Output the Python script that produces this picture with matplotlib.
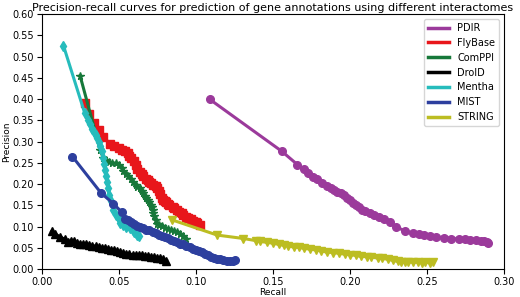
import matplotlib
matplotlib.use('Agg')
import matplotlib.pyplot as plt

# PDIR
pdir_r = [0.109, 0.156, 0.166, 0.170, 0.173, 0.176, 0.179, 0.182, 0.185, 0.188, 0.190, 0.192,
          0.194, 0.196, 0.198, 0.200, 0.202, 0.204, 0.206, 0.208, 0.210, 0.213, 0.216, 0.219,
          0.222, 0.226, 0.230, 0.236, 0.241, 0.245, 0.248, 0.252, 0.256, 0.261, 0.266, 0.271,
          0.275, 0.278, 0.282, 0.285, 0.287, 0.289, 0.290]
pdir_p = [0.400, 0.277, 0.246, 0.236, 0.226, 0.216, 0.211, 0.203, 0.196, 0.190, 0.186, 0.182,
          0.178, 0.174, 0.168, 0.162, 0.156, 0.150, 0.145, 0.140, 0.136, 0.131, 0.127, 0.123,
          0.118, 0.110, 0.100, 0.089, 0.084, 0.082, 0.081, 0.078, 0.076, 0.074, 0.072, 0.071,
          0.071, 0.069, 0.068, 0.066, 0.065, 0.064, 0.062]

# FlyBase
fly_r = [0.028, 0.031, 0.034, 0.037, 0.040, 0.0445, 0.047, 0.050, 0.052, 0.054, 0.056, 0.057,
         0.058, 0.060, 0.061, 0.062, 0.064, 0.065, 0.066, 0.068, 0.069, 0.070, 0.071, 0.072,
         0.074, 0.075, 0.076, 0.077, 0.078, 0.079, 0.080, 0.081, 0.082, 0.083, 0.085, 0.086,
         0.088, 0.089, 0.091, 0.092, 0.094, 0.095, 0.097, 0.098, 0.100, 0.101, 0.103]
fly_p = [0.390, 0.365, 0.345, 0.328, 0.312, 0.294, 0.290, 0.284, 0.281, 0.278, 0.273, 0.266,
         0.262, 0.255, 0.246, 0.236, 0.228, 0.223, 0.218, 0.212, 0.210, 0.205, 0.203, 0.198,
         0.195, 0.192, 0.185, 0.176, 0.168, 0.163, 0.160, 0.157, 0.154, 0.150, 0.146, 0.143,
         0.139, 0.135, 0.131, 0.128, 0.123, 0.121, 0.118, 0.114, 0.112, 0.108, 0.103]

# ComPPI
com_r = [0.025, 0.038, 0.040, 0.042, 0.044, 0.046, 0.048, 0.050, 0.052, 0.053, 0.055, 0.056,
         0.058, 0.059, 0.061, 0.062, 0.064, 0.065, 0.066, 0.067, 0.068, 0.069, 0.070, 0.071,
         0.0715, 0.072, 0.0726, 0.073, 0.074, 0.0748, 0.076, 0.078, 0.080, 0.082, 0.084,
         0.086, 0.088, 0.090, 0.092, 0.094]
com_p = [0.455, 0.280, 0.262, 0.256, 0.252, 0.250, 0.249, 0.245, 0.238, 0.232, 0.225, 0.219,
         0.212, 0.206, 0.198, 0.194, 0.190, 0.184, 0.178, 0.172, 0.168, 0.163, 0.158, 0.150,
         0.145, 0.138, 0.131, 0.124, 0.116, 0.107, 0.104, 0.101, 0.097, 0.094, 0.093,
         0.090, 0.087, 0.083, 0.078, 0.072]

# DroID
droid_r = [0.0066, 0.009, 0.012, 0.015, 0.0174, 0.019, 0.021, 0.023, 0.025, 0.027, 0.029,
           0.031, 0.033, 0.035, 0.037, 0.039, 0.041, 0.043, 0.045, 0.047, 0.049, 0.051, 0.053,
           0.055, 0.057, 0.059, 0.061, 0.063, 0.065, 0.067, 0.069, 0.071, 0.073, 0.075, 0.077,
           0.079, 0.081]
droid_p = [0.089, 0.082, 0.076, 0.070, 0.064, 0.066, 0.065, 0.062, 0.060, 0.059, 0.058,
           0.056, 0.055, 0.054, 0.052, 0.050, 0.049, 0.048, 0.045, 0.044, 0.042, 0.040, 0.038,
           0.036, 0.035, 0.034, 0.033, 0.032, 0.032, 0.031, 0.030, 0.029, 0.028, 0.027, 0.025,
           0.023, 0.020]

# Mentha
men_r = [0.0142, 0.028, 0.030, 0.0315, 0.033, 0.034, 0.035, 0.036, 0.037, 0.038, 0.039, 0.040,
         0.0405, 0.041, 0.042, 0.0425, 0.043, 0.044, 0.045, 0.0465, 0.048, 0.050, 0.051, 0.053,
         0.055, 0.0575, 0.059, 0.060, 0.061, 0.062, 0.063]
men_p = [0.526, 0.367, 0.352, 0.341, 0.330, 0.322, 0.315, 0.308, 0.300, 0.290, 0.278, 0.262,
         0.248, 0.233, 0.218, 0.205, 0.190, 0.175, 0.160, 0.140, 0.128, 0.117, 0.108, 0.103,
         0.100, 0.096, 0.092, 0.088, 0.084, 0.080, 0.077]

# MIST
mist_r = [0.020, 0.0386, 0.0466, 0.052, 0.054, 0.056, 0.058, 0.060, 0.062, 0.064, 0.066, 0.068,
          0.070, 0.072, 0.074, 0.076, 0.078, 0.080, 0.082, 0.084, 0.086, 0.088, 0.090, 0.092,
          0.094, 0.096, 0.098, 0.100, 0.102, 0.104, 0.106, 0.108, 0.110, 0.112, 0.114, 0.116,
          0.118, 0.120, 0.122, 0.124, 0.1256]
mist_p = [0.265, 0.179, 0.154, 0.134, 0.119, 0.115, 0.110, 0.107, 0.102, 0.099, 0.097, 0.093,
          0.091, 0.087, 0.085, 0.081, 0.079, 0.075, 0.073, 0.069, 0.067, 0.063, 0.060, 0.058,
          0.054, 0.052, 0.048, 0.046, 0.042, 0.040, 0.036, 0.033, 0.029, 0.027, 0.024, 0.023,
          0.021, 0.020, 0.020, 0.019, 0.0205]

# STRING
str_r = [0.0845, 0.114, 0.131, 0.139, 0.142, 0.146, 0.150, 0.154, 0.157, 0.160, 0.1635, 0.167,
         0.170, 0.174, 0.178, 0.181, 0.185, 0.189, 0.193, 0.197, 0.200, 0.204, 0.207, 0.211,
         0.214, 0.218, 0.221, 0.225, 0.228, 0.231, 0.233, 0.236, 0.238, 0.241, 0.244, 0.247,
         0.249, 0.252, 0.254]
str_p = [0.116, 0.080, 0.072, 0.067, 0.065, 0.063, 0.061, 0.058, 0.056, 0.054, 0.052, 0.051,
         0.049, 0.047, 0.045, 0.043, 0.040, 0.039, 0.037, 0.035, 0.034, 0.032, 0.030, 0.029,
         0.028, 0.026, 0.025, 0.023, 0.0205, 0.018, 0.016, 0.017, 0.017, 0.016, 0.016, 0.015,
         0.016, 0.015, 0.0165]

series = [
    ('PDIR', pdir_r, pdir_p, '#9b3a9b', 'o'),
    ('FlyBase', fly_r, fly_p, '#e8161b', 's'),
    ('ComPPI', com_r, com_p, '#17783a', '*'),
    ('DroID', droid_r, droid_p, 'black', '^'),
    ('Mentha', men_r, men_p, '#26bcbc', 'd'),
    ('MIST', mist_r, mist_p, '#2d3f9e', 'o'),
    ('STRING', str_r, str_p, '#bcbd22', 'v'),
]

plt.rcParams['font.size'] = 6.5
fig = plt.figure(figsize=(5.2, 2.97), dpi=100)
ax = fig.add_axes([0.08, 0.094, 0.889, 0.858])
for name, r, p, c, m in series:
    ax.plot(r, p, color=c, marker=m, markersize=5.5, linewidth=2.2, label=name)

ax.set_xlim(0, 0.30)
ax.set_ylim(0, 0.60)
ax.set_xticks([0.00, 0.05, 0.10, 0.15, 0.20, 0.25, 0.30])
ax.set_yticks([0.00, 0.05, 0.10, 0.15, 0.20, 0.25, 0.30, 0.35, 0.40, 0.45, 0.50, 0.55, 0.60])
ax.xaxis.set_major_formatter(matplotlib.ticker.FormatStrFormatter('%.2f'))
ax.yaxis.set_major_formatter(matplotlib.ticker.FormatStrFormatter('%.2f'))
ax.tick_params(labelsize=7, pad=2)
ax.set_xlabel('Recall', labelpad=1)
ax.set_ylabel('Precision', labelpad=1)
ax.set_title('Precision-recall curves for prediction of gene annotations using different interactomes',
             fontsize=8, pad=2)
leg = ax.legend(loc='upper right', fontsize=7, handlelength=2.2)
for line in leg.get_lines():
    line.set_marker('')
    line.set_linewidth(2.5)

fig.savefig('out.png', dpi=100)
